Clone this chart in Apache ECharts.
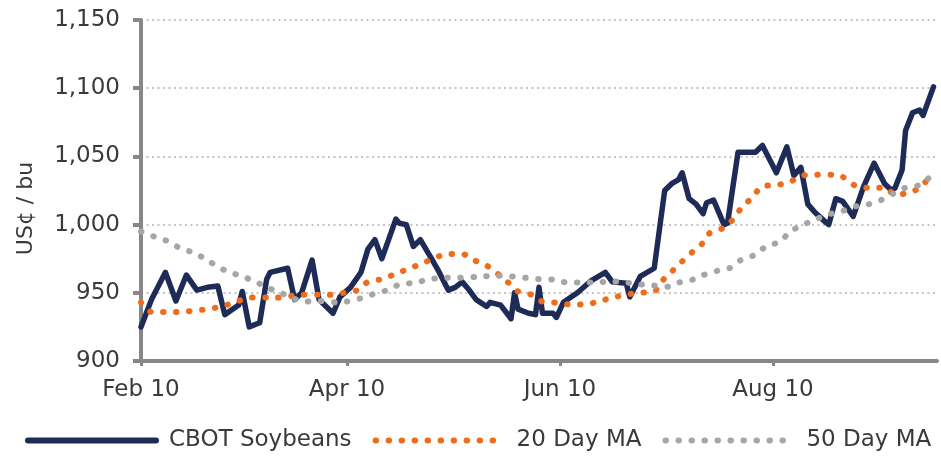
<!DOCTYPE html>
<html><head><meta charset="utf-8">
<script src="https://cdn.jsdelivr.net/npm/echarts@6/dist/echarts.min.js"></script>
<style>html,body{margin:0;padding:0;background:#fff}#c{width:941px;height:461px}</style>
</head><body><div id="c"></div>
<script>
const seriesNames = ['CBOT Soybeans', '20 Day MA', '50 Day MA'];
const axisTitle = 'US\u00a2 / bu';
const tickDates = ['2010-02-01', '2010-04-01', '2010-06-01', '2010-08-01'];
const tickLabels = ['Feb 10', 'Apr 10', 'Jun 10', 'Aug 10'];
const xStart = '2010-02-01';
const xEnd = '2010-09-17';
const yMin = 900, yMax = 1150, yStep = 50;

const soyDates = ['2010-02-01','2010-02-04','2010-02-08','2010-02-11','2010-02-14','2010-02-17','2010-02-20','2010-02-23','2010-02-25','2010-03-01','2010-03-02','2010-03-04','2010-03-07','2010-03-09','2010-03-10','2010-03-15','2010-03-17','2010-03-19','2010-03-22','2010-03-24','2010-03-28','2010-03-30','2010-04-02','2010-04-05','2010-04-07','2010-04-09','2010-04-11','2010-04-15','2010-04-16','2010-04-18','2010-04-20','2010-04-22','2010-04-25','2010-04-27','2010-04-30','2010-05-02','2010-05-04','2010-05-06','2010-05-08','2010-05-11','2010-05-12','2010-05-15','2010-05-18','2010-05-19','2010-05-20','2010-05-23','2010-05-25','2010-05-26','2010-05-27','2010-05-30','2010-05-31','2010-06-02','2010-06-06','2010-06-10','2010-06-14','2010-06-16','2010-06-20','2010-06-21','2010-06-24','2010-06-28','2010-07-01','2010-07-03','2010-07-05','2010-07-06','2010-07-08','2010-07-10','2010-07-12','2010-07-13','2010-07-15','2010-07-18','2010-07-19','2010-07-22','2010-07-27','2010-07-29','2010-08-02','2010-08-05','2010-08-07','2010-08-09','2010-08-11','2010-08-13','2010-08-16','2010-08-17','2010-08-19','2010-08-21','2010-08-24','2010-08-27','2010-08-30','2010-09-02','2010-09-04','2010-09-05','2010-09-07','2010-09-08','2010-09-10','2010-09-12','2010-09-13','2010-09-16'];
const soyValues = [925,945,965,944,963,952,954,955,934,941,951,925,928,960,965,968,945,950,974,945,935,947,954,965,982,989,975,1004,1001,1000,984,989,976,967,952,954,958,952,945,940,943,941,931,950,938,935,934,954,935,935,932,943,950,959,965,958,957,947,962,968,1025,1030,1033,1038,1019,1015,1008,1016,1018,1000,1001,1053,1053,1058,1038,1057,1036,1042,1015,1009,1002,1000,1019,1017,1006,1028,1045,1030,1025,1027,1040,1069,1082,1084,1080,1101];

const ma20Dates = ['2010-02-01','2010-02-04','2010-02-11','2010-02-20','2010-02-24','2010-02-28','2010-03-04','2010-03-12','2010-03-19','2010-03-27','2010-03-31','2010-04-04','2010-04-07','2010-04-11','2010-04-15','2010-04-19','2010-04-23','2010-04-26','2010-04-30','2010-05-04','2010-05-07','2010-05-11','2010-05-17','2010-05-20','2010-05-24','2010-05-27','2010-05-31','2010-06-04','2010-06-08','2010-06-12','2010-06-16','2010-06-20','2010-06-23','2010-06-28','2010-06-30','2010-07-03','2010-07-06','2010-07-09','2010-07-12','2010-07-14','2010-07-18','2010-07-21','2010-07-23','2010-07-26','2010-07-29','2010-08-02','2010-08-06','2010-08-09','2010-08-13','2010-08-18','2010-08-21','2010-08-25','2010-08-29','2010-09-02','2010-09-05','2010-09-09','2010-09-12','2010-09-15'];
const ma20Values = [943,936,936,938,940,943,946.5,946.5,948.5,948.5,950,952,958,960,964,968,972,975.5,978.5,978.5,974.3,970,958,951,948.5,943.5,942.8,941.4,941.4,943.6,946.5,948.6,950,951,958,965.5,973,980,986.7,994,997.8,1005,1012.4,1019.7,1028,1029,1031.4,1035.8,1036.5,1036.5,1035,1028,1027,1027,1022,1023.4,1027,1035];

const ma50Dates = ['2010-02-01','2010-02-05','2010-02-09','2010-02-12','2010-02-16','2010-02-20','2010-02-23','2010-02-26','2010-03-02','2010-03-06','2010-03-09','2010-03-13','2010-03-16','2010-03-20','2010-03-24','2010-03-29','2010-04-01','2010-04-05','2010-04-09','2010-04-13','2010-04-16','2010-04-21','2010-04-24','2010-04-29','2010-05-03','2010-05-10','2010-05-14','2010-05-18','2010-05-22','2010-05-26','2010-05-31','2010-06-03','2010-06-07','2010-06-12','2010-06-15','2010-06-20','2010-06-23','2010-06-27','2010-07-02','2010-07-05','2010-07-09','2010-07-12','2010-07-16','2010-07-20','2010-07-23','2010-07-27','2010-07-30','2010-08-03','2010-08-06','2010-08-09','2010-08-13','2010-08-17','2010-08-21','2010-08-24','2010-08-28','2010-09-01','2010-09-05','2010-09-08','2010-09-12','2010-09-15'];
const ma50Values = [995,991,987.5,983,979.4,974,969,965.5,962,958,954,950,946.5,943.6,944,943,943.6,946,949.4,952.3,956,957.5,959.7,961,961,962,962.6,962,961,960,959.6,957.5,957.5,957.5,958.5,957.5,956.5,955.5,954.5,957.5,959.6,963,966,968.5,974.3,978,984,987.5,995,999,1003.6,1007.5,1010,1013,1014.6,1018,1023.4,1027,1029,1035];

// dates -> day number counted from xStart (UTC, no time-zone drift)
function dayNum(s) {
  const p = s.split('-').map(Number), q = xStart.split('-').map(Number);
  return Math.round((Date.UTC(p[0], p[1] - 1, p[2]) - Date.UTC(q[0], q[1] - 1, q[2])) / 86400000);
}
function pairs(dates, vals) { return dates.map((d, i) => [dayNum(d), vals[i]]); }
const tickDays = tickDates.map(dayNum);

const navy = '#1e2b57', orange = '#ee6d1d', gray = '#a6a6a6';
const font = 'DejaVu Sans';
const dotted = [0.5, 12.5];
const hiddenSymbol = {opacity: 0, color: 'rgba(0,0,0,0)', borderWidth: 0};

const chart = echarts.init(document.getElementById('c'), null, {renderer: 'canvas'});
chart.setOption({
  animation: false,
  backgroundColor: '#ffffff',
  grid: {left: 141, right: 4, top: 20, bottom: 100, containLabel: false},
  xAxis: {
    type: 'value',
    min: 0, max: dayNum(xEnd),
    axisLine: {show: true, lineStyle: {color: '#878787', width: 4}},
    axisTick: {show: true, customValues: tickDays, length: 5, lineStyle: {color: '#878787', width: 3}},
    axisLabel: {
      customValues: tickDays,
      formatter: function (v) { const i = tickDays.indexOf(v); return i >= 0 ? tickLabels[i] : ''; },
      color: '#3a3a3a', fontFamily: font, fontSize: 23, margin: 18
    },
    splitLine: {show: false}
  },
  yAxis: {
    type: 'value', min: yMin, max: yMax, interval: yStep,
    name: axisTitle, nameLocation: 'middle', nameGap: 104,
    nameTextStyle: {color: '#3a3a3a', fontFamily: font, fontSize: 22, padding: [0, 36, 0, 0]},
    axisLine: {show: true, lineStyle: {color: '#878787', width: 4}},
    axisTick: {show: true, length: 8, lineStyle: {color: '#878787', width: 4}},
    axisLabel: {
      formatter: function (v) { return v.toLocaleString('en-US'); },
      color: '#3a3a3a', fontFamily: font, fontSize: 23, margin: 21
    },
    splitLine: {show: true, lineStyle: {color: '#c4c4c4', width: 2, type: [2, 3.5]}}
  },
  legend: {
    bottom: 4, left: 20, itemGap: 21, itemWidth: 128, itemHeight: 14,
    textStyle: {color: '#3a3a3a', fontFamily: font, fontSize: 23, padding: [0, 0, 0, 8]},
    data: [
      {name: seriesNames[0], itemStyle: hiddenSymbol, lineStyle: {width: 6, color: navy, type: 'solid', cap: 'round'}},
      {name: seriesNames[1], itemStyle: hiddenSymbol, lineStyle: {width: 6, color: orange, type: dotted, cap: 'round'}},
      {name: seriesNames[2], itemStyle: hiddenSymbol, lineStyle: {width: 6, color: gray, type: dotted, cap: 'round'}}
    ]
  },
  series: [
    {name: seriesNames[0], type: 'line', data: pairs(soyDates, soyValues), symbol: 'none', showSymbol: false,
     lineStyle: {color: navy, width: 5.5, join: 'round', cap: 'round'}, itemStyle: {color: navy}, z: 2},
    {name: seriesNames[1], type: 'line', data: pairs(ma20Dates, ma20Values), symbol: 'none', showSymbol: false, smooth: 0.3,
     lineStyle: {color: orange, width: 6, type: dotted, cap: 'round'}, itemStyle: {color: orange}, z: 3},
    {name: seriesNames[2], type: 'line', data: pairs(ma50Dates, ma50Values), symbol: 'none', showSymbol: false, smooth: 0.3,
     lineStyle: {color: gray, width: 6, type: dotted, cap: 'round'}, itemStyle: {color: gray}, z: 4}
  ]
});
</script>
</body></html>
